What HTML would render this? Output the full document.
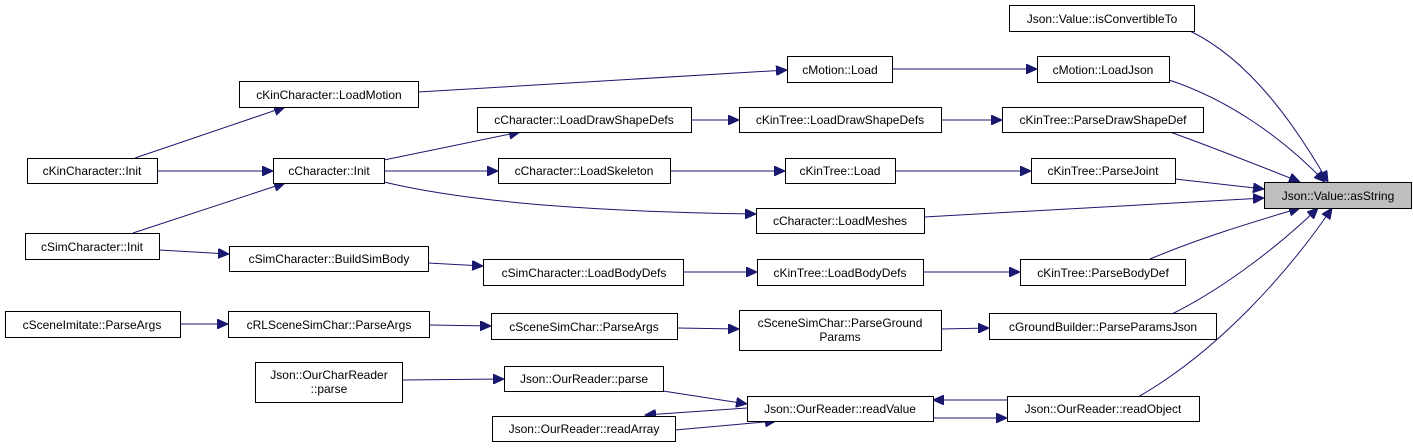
<!DOCTYPE html>
<html><head><meta charset="utf-8"><style>
html,body{margin:0;padding:0;background:#fff;}
svg{display:block;}
text{font-family:"Liberation Sans",Arial,sans-serif;font-size:12px;fill:#000;}
.n{fill:#fff;stroke:#000;stroke-width:1;}
.e{fill:none;stroke:#191970;stroke-width:1;}
</style></head><body>
<svg width="1413" height="448" viewBox="0 0 1413 448" xmlns="http://www.w3.org/2000/svg">
<defs>
<marker id="a" markerUnits="userSpaceOnUse" markerWidth="12" markerHeight="10" refX="11" refY="5" orient="auto">
<path d="M0,0 L11,5 L0,10 Z" fill="#191970" stroke="#191970"/>
</marker>
</defs>
<g class="edges">
<path class="e" marker-end="url(#a)" d="M418,92 L787,70"/>
<path class="e" marker-end="url(#a)" d="M892,69 L1037,69"/>
<path class="e" marker-end="url(#a)" d="M1169,80 C1230,100 1285,140 1325,182"/>
<path class="e" marker-end="url(#a)" d="M1190,31 C1250,60 1295,125 1328,182"/>
<path class="e" marker-end="url(#a)" d="M135,158 L285,107"/>
<path class="e" marker-end="url(#a)" d="M157,171 L273,171"/>
<path class="e" marker-end="url(#a)" d="M133,233 L285,183"/>
<path class="e" marker-end="url(#a)" d="M384,160 L520,132"/>
<path class="e" marker-end="url(#a)" d="M384,171 L498,171"/>
<path class="e" marker-end="url(#a)" d="M384,182 C480,205 620,212 756,214"/>
<path class="e" marker-end="url(#a)" d="M691,120 L739,120"/>
<path class="e" marker-end="url(#a)" d="M941,120 L1002,120"/>
<path class="e" marker-end="url(#a)" d="M1170,132 C1220,150 1265,168 1300,182"/>
<path class="e" marker-end="url(#a)" d="M670,171 L785,171"/>
<path class="e" marker-end="url(#a)" d="M895,171 L1031,171"/>
<path class="e" marker-end="url(#a)" d="M1175,179 L1264,189"/>
<path class="e" marker-end="url(#a)" d="M924,217 L1264,198"/>
<path class="e" marker-end="url(#a)" d="M159,250 L229,254"/>
<path class="e" marker-end="url(#a)" d="M428,263 L483,266"/>
<path class="e" marker-end="url(#a)" d="M683,272 L757,272"/>
<path class="e" marker-end="url(#a)" d="M923,272 L1020,272"/>
<path class="e" marker-end="url(#a)" d="M1150,259 C1205,236 1260,220 1300,208"/>
<path class="e" marker-end="url(#a)" d="M180,324 L228,324"/>
<path class="e" marker-end="url(#a)" d="M429,325 L491,326"/>
<path class="e" marker-end="url(#a)" d="M677,328 L739,329"/>
<path class="e" marker-end="url(#a)" d="M941,329 L989,328"/>
<path class="e" marker-end="url(#a)" d="M1172,314 C1230,285 1285,240 1318,208"/>
<path class="e" marker-end="url(#a)" d="M402,380 L504,379"/>
<path class="e" marker-end="url(#a)" d="M663,391 L747,404"/>
<path class="e" marker-end="url(#a)" d="M747,408 L645,415"/>
<path class="e" marker-end="url(#a)" d="M675,430 L776,421"/>
<path class="e" marker-end="url(#a)" d="M933,418 L1007,418"/>
<path class="e" marker-end="url(#a)" d="M1007,400 L933,400"/>
<path class="e" marker-end="url(#a)" d="M1138,397 C1220,350 1290,270 1332,208"/>
</g>
<g class="nodes">
<rect class="n" x="1009.5" y="5.5" width="185" height="26"/><text x="1102" y="23" text-anchor="middle">Json::Value::isConvertibleTo</text>
<rect class="n" x="1037.5" y="56.5" width="132" height="26"/><text x="1103" y="74" text-anchor="middle">cMotion::LoadJson</text>
<rect class="n" x="787.5" y="56.5" width="105" height="26"/><text x="840" y="74" text-anchor="middle">cMotion::Load</text>
<rect class="n" x="239.5" y="81.5" width="179" height="26"/><text x="329" y="99" text-anchor="middle">cKinCharacter::LoadMotion</text>
<rect class="n" x="477.5" y="107.5" width="214" height="25"/><text x="584" y="124" text-anchor="middle">cCharacter::LoadDrawShapeDefs</text>
<rect class="n" x="739.5" y="107.5" width="202" height="25"/><text x="840" y="124" text-anchor="middle">cKinTree::LoadDrawShapeDefs</text>
<rect class="n" x="1002.5" y="107.5" width="201" height="25"/><text x="1103" y="124" text-anchor="middle">cKinTree::ParseDrawShapeDef</text>
<rect class="n" x="27.5" y="158.5" width="130" height="25"/><text x="92" y="175" text-anchor="middle">cKinCharacter::Init</text>
<rect class="n" x="273.5" y="158.5" width="111" height="25"/><text x="329" y="175" text-anchor="middle">cCharacter::Init</text>
<rect class="n" x="498.5" y="158.5" width="172" height="25"/><text x="584" y="175" text-anchor="middle">cCharacter::LoadSkeleton</text>
<rect class="n" x="785.5" y="158.5" width="110" height="25"/><text x="840" y="175" text-anchor="middle">cKinTree::Load</text>
<rect class="n" x="1031.5" y="158.5" width="144" height="25"/><text x="1103" y="175" text-anchor="middle">cKinTree::ParseJoint</text>
<rect x="1264.5" y="182.5" width="147" height="26" fill="#bfbfbf" stroke="#000"/><text x="1338" y="200" text-anchor="middle">Json::Value::asString</text>
<rect class="n" x="756.5" y="208.5" width="168" height="25"/><text x="840" y="225" text-anchor="middle">cCharacter::LoadMeshes</text>
<rect class="n" x="25.5" y="233.5" width="134" height="26"/><text x="92" y="251" text-anchor="middle">cSimCharacter::Init</text>
<rect class="n" x="229.5" y="246.5" width="199" height="25"/><text x="329" y="263" text-anchor="middle">cSimCharacter::BuildSimBody</text>
<rect class="n" x="483.5" y="259.5" width="200" height="26"/><text x="584" y="277" text-anchor="middle">cSimCharacter::LoadBodyDefs</text>
<rect class="n" x="757.5" y="259.5" width="166" height="26"/><text x="840" y="277" text-anchor="middle">cKinTree::LoadBodyDefs</text>
<rect class="n" x="1020.5" y="259.5" width="165" height="26"/><text x="1103" y="277" text-anchor="middle">cKinTree::ParseBodyDef</text>
<rect class="n" x="5.5" y="311.5" width="175" height="26"/><text x="92" y="329" text-anchor="middle">cSceneImitate::ParseArgs</text>
<rect class="n" x="228.5" y="311.5" width="201" height="26"/><text x="329" y="329" text-anchor="middle">cRLSceneSimChar::ParseArgs</text>
<rect class="n" x="491.5" y="313.5" width="186" height="26"/><text x="584" y="331" text-anchor="middle">cSceneSimChar::ParseArgs</text>
<rect class="n" x="739.5" y="310.5" width="202" height="40"/><text x="840" y="327" text-anchor="middle">cSceneSimChar::ParseGround</text><text x="840" y="341" text-anchor="middle">Params</text>
<rect class="n" x="989.5" y="313.5" width="227" height="26"/><text x="1103" y="331" text-anchor="middle">cGroundBuilder::ParseParamsJson</text>
<rect class="n" x="255.5" y="362.5" width="147" height="40"/><text x="329" y="379" text-anchor="middle">Json::OurCharReader</text><text x="329" y="393" text-anchor="middle">::parse</text>
<rect class="n" x="504.5" y="366.5" width="159" height="25"/><text x="584" y="383" text-anchor="middle">Json::OurReader::parse</text>
<rect class="n" x="492.5" y="416.5" width="183" height="25"/><text x="584" y="433" text-anchor="middle">Json::OurReader::readArray</text>
<rect class="n" x="747.5" y="396.5" width="186" height="25"/><text x="840" y="413" text-anchor="middle">Json::OurReader::readValue</text>
<rect class="n" x="1007.5" y="396.5" width="192" height="25"/><text x="1103" y="413" text-anchor="middle">Json::OurReader::readObject</text>
</g>
</svg>
</body></html>
